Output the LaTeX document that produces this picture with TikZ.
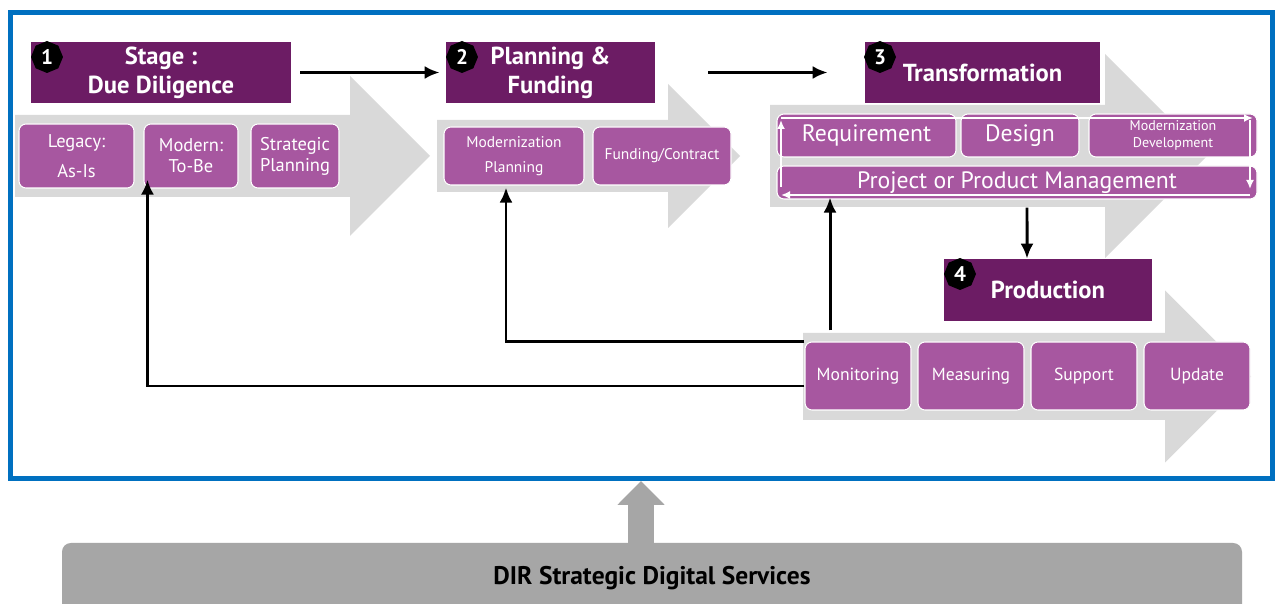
\documentclass[tikz,border=0pt]{standalone}
\usepackage{fontspec}
\setmainfont{PT Sans}
\usepackage{tikz}
\usetikzlibrary{arrows.meta}
\usetikzlibrary{positioning}
\usetikzlibrary{calc}
\usetikzlibrary{shapes.geometric}
\definecolor{headpurple}{RGB}{108,28,100}
\definecolor{subpurple}{RGB}{167,87,160}
\definecolor{arrowgray}{RGB}{217,217,217}
\definecolor{framblue}{RGB}{0,112,192}
\definecolor{basegray}{RGB}{166,166,166}
\tikzset{>={Latex[length=3mm,width=2.6mm]}}
\tikzset{
    boxsize/.style 2 args={minimum width=#1*0.02cm, minimum height=#2*0.02cm},
    head/.style={fill=headpurple, text=white, align=center, inner sep=0pt,
        font=\bfseries\fontsize{14}{16.5}\selectfont},
    sub/.style={fill=subpurple, draw=white, line width=0.6pt, rounded corners=4pt,
        text=white, align=center, inner sep=0pt},
    badge/.style={regular polygon, regular polygon sides=8, shape border rotate=22.5,
        fill=black, text=white, inner sep=0pt, minimum size=0.64cm,
        font=\bfseries\fontsize{12}{12}\selectfont},
    conn/.style={->, line width=1.7pt, black},
    loop/.style={-{Latex[length=1.8mm,width=1.6mm]}, white, line width=1pt},
}
\def\bigarrow(#1:#2:#3:#4:#5)% (start x : body top : body bottom : head x : head half height)
    { \fill[arrowgray] (#1,#2) -- (#4,#2) -- (#4,{(#2+#3)/2-#5}) -- ({#4+#5},{(#2+#3)/2})
      -- (#4,{(#2+#3)/2+#5}) -- (#4,#3) -- (#1,#3) -- cycle; }
\begin{document}
\begin{tikzpicture}[x=0.02cm, y=-0.02cm]
		\fill[white] (0,0) rectangle (1276,604);
		\useasboundingbox (0,0) rectangle (1276,604);
		\node[draw=framblue, line width=0.1cm, boxsize={1262}{466}, inner sep=0pt] (frame) at (641.5,245.5) {};
		% the four stages
		\bigarrow(15:115:197:350:80)
		\bigarrow(437:120:192:668:72)
		\bigarrow(770:105:207:1105:102)
		\bigarrow(803:333:420:1165:86)
		\node[head, boxsize={260}{61}] (h1) at (161,72.5) {Stage :\\Due Diligence};
		\node[badge] (b1) at (47,57) {1};
		\node[sub, boxsize={115}{64}, font=\fontsize{10.5}{17}\selectfont] (legacy) at (76.5,156) {Legacy:\\As-Is};
		\node[sub, boxsize={94}{64}, font=\fontsize{10.5}{12}\selectfont] (modern) at (191,156) {Modern:\\To-Be};
		\node[sub, boxsize={88}{64}, font=\fontsize{10.5}{12}\selectfont] (strat) at (295,156) {Strategic\\Planning};
		\node[head, boxsize={209}{61}] (h2) at (550.5,72.5) {Planning \&\\Funding};
		\node[badge] (b2) at (462,57) {2};
		\node[sub, boxsize={140}{58}, font=\fontsize{8.8}{14}\selectfont] (mplan) at (514,156) {Modernization\\Planning};
		\node[sub, boxsize={138}{58}, font=\fontsize{8.8}{11}\selectfont] (fund) at (662,156) {Funding/Contract};
		\node[head, boxsize={235}{61}] (h3) at (982.5,72.5) {Transformation};
		\node[badge] (b3) at (880,57) {3};
		\node[sub, boxsize={179}{43}, font=\fontsize{13.5}{15}\selectfont] (req) at (866.5,135.5) {Requirement};
		\node[sub, boxsize={118}{43}, font=\fontsize{13.5}{15}\selectfont] (design) at (1020,135.5) {Design};
		\node[sub, boxsize={168}{43}, font=\fontsize{8}{9.5}\selectfont] (mdev) at (1173,135.5) {Modernization\\Development};
		\node[sub, boxsize={480}{33}, font=\fontsize{13.5}{15}\selectfont] (pm) at (1017,182.5) {Project or Product Management};
		\coordinate (lt) at (781,118);
		\coordinate (rb) at (1250,195);
		\draw[loop] (lt |- rb) ++(0,-8) -- ([yshift=-0.04cm]lt);
		\draw[loop] (lt) -- ([xshift=0.06cm]rb |- lt);
		\draw[loop] ([yshift=-0.04cm]rb |- lt) -- ([yshift=0.12cm]rb);
		\draw[loop] (rb) -- (lt |- rb);
		\node[head, boxsize={208}{62}] (h4) at (1048,290) {Production};
		\node[badge] (b4) at (960,274) {4};
		\node[sub, boxsize={106}{68}, font=\fontsize{10}{12}\selectfont] (mon) at (858,376) {Monitoring};
		\node[sub, boxsize={106}{68}, font=\fontsize{10}{12}\selectfont] (meas) at (971,376) {Measuring};
		\node[sub, boxsize={106}{68}, font=\fontsize{10}{12}\selectfont] (supp) at (1084,376) {Support};
		\node[sub, boxsize={106}{68}, font=\fontsize{10}{12}\selectfont] (upd) at (1197,376) {Update};
		% flow between stages
		\draw[conn, shorten <=0.18cm, shorten >=0.12cm] (h1) -- (h2);
		\draw[conn, shorten <=1.06cm, shorten >=0.74cm] (h2) -- (h3);
		\draw[conn, shorten <=0.16cm] ([xshift=0.2cm]pm.south) -- ([xshift=-0.42cm]h4.north);
		% feedback from production
		\draw[conn, shorten >=0.18cm] ([shift={(-0.56cm,0.22cm)}]mon.north) -- ([shift={(-0.56cm,0.22cm)}]mon.north |- pm.south);
		\draw[conn, shorten >=0.04cm] (mon.north west) -| ([xshift=-0.16cm]mplan.south);
		\draw[conn, shorten >=-0.18cm] ([yshift=-0.2cm]mon.west) -| ([xshift=0.08cm]modern.south west);
		% base services
		\node[fill=basegray, rounded corners=5pt, boxsize={1180}{70}, inner sep=0pt,
			font=\bfseries\fontsize{14.5}{16}\selectfont] (dir) at (652,578) {DIR Strategic Digital Services};
		\draw[basegray, line width=0.52cm, -{Triangle[width=0.92cm,length=0.48cm]}] ([xshift=-0.22cm]dir.north) -- ([xshift=-0.22cm]dir.north |- frame.south);
	\end{tikzpicture}
\end{document}
